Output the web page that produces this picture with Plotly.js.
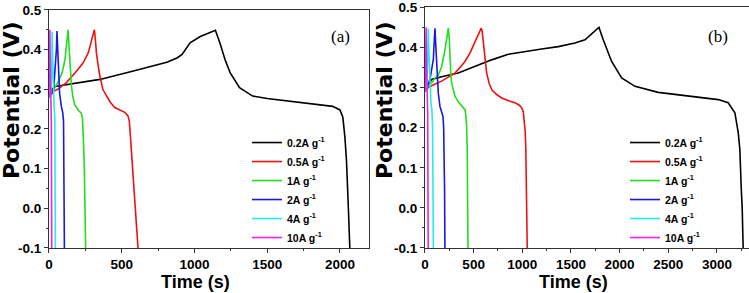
<!DOCTYPE html>
<html>
<head>
<meta charset="utf-8">
<script src="https://cdn.plot.ly/plotly-3.0.1.min.js"></script>
<style>html,body{margin:0;padding:0;background:#fff;overflow:hidden}</style>
</head>
<body>
<div id="chart" style="width:749px;height:293px"></div>
<script>
// ---- Data: panel (a) ----
const seriesNames = ['0.2A g<sup>-1</sup>','0.5A g<sup>-1</sup>','1A g<sup>-1</sup>','2A g<sup>-1</sup>','4A g<sup>-1</sup>','10A g<sup>-1</sup>'];
const seriesColors = ['#000000','#ee1111','#22dd22','#1a1ae0','#22eeee','#ee22ee'];

const a_t_02 = [0, 10, 40, 120, 350, 580, 700, 810, 880, 915, 970, 1040, 1144, 1175, 1210, 1245, 1310, 1400, 1500, 1730, 1950, 2000, 2020, 2034, 2045, 2058, 2068];
const a_v_02 = [0.285, 0.296, 0.307, 0.312, 0.325, 0.346, 0.358, 0.368, 0.379, 0.388, 0.417, 0.433, 0.449, 0.417, 0.375, 0.342, 0.304, 0.283, 0.277, 0.267, 0.257, 0.248, 0.23, 0.18, 0.12, 0.0, -0.1];
const a_t_05 = [0, 30, 60, 120, 190, 235, 270, 290, 303, 312, 318, 326, 338, 350, 370, 395, 420, 452, 490, 521, 543, 552, 560, 575, 594, 612];
const a_v_05 = [0.285, 0.295, 0.30, 0.317, 0.346, 0.367, 0.392, 0.42, 0.442, 0.45, 0.43, 0.392, 0.36, 0.333, 0.30, 0.283, 0.268, 0.254, 0.247, 0.242, 0.233, 0.22, 0.18, 0.10, 0.0, -0.1];
const a_t_1 = [0, 16, 60, 90, 110, 122, 131, 136, 142, 148, 154, 165, 177, 200, 222, 230, 234, 238, 243, 248, 252];
const a_v_1 = [0.28, 0.29, 0.317, 0.342, 0.375, 0.417, 0.45, 0.42, 0.383, 0.33, 0.31, 0.28, 0.262, 0.248, 0.24, 0.228, 0.2, 0.16, 0.1, 0.0, -0.1];
const a_t_2 = [0, 20, 32, 41, 51, 55, 60, 66, 73, 85, 95, 100, 103, 106];
const a_v_2 = [0.28, 0.29, 0.30, 0.342, 0.40, 0.447, 0.39, 0.33, 0.29, 0.257, 0.24, 0.22, 0.1, -0.1];
const a_t_4 = [0, 10, 18, 22, 25, 29, 35, 40, 42, 44];
const a_v_4 = [0.28, 0.29, 0.33, 0.445, 0.38, 0.30, 0.26, 0.23, 0.1, -0.1];
const a_t_10 = [0, 4, 6, 8, 12, 16, 19];
const a_v_10 = [0.28, 0.35, 0.45, 0.38, 0.28, 0.22, -0.1];

// ---- Data: panel (b) ----
const b_t_02 = [0, 17, 68, 171, 342, 514, 685, 856, 1027, 1199, 1370, 1541, 1644, 1729, 1775, 1788, 1832, 1918, 2021, 2158, 2397, 2740, 3014, 3116, 3185, 3219, 3236, 3250, 3260, 3270];
const b_v_02 = [0.29, 0.30, 0.32, 0.327, 0.336, 0.353, 0.369, 0.383, 0.39, 0.396, 0.402, 0.411, 0.419, 0.436, 0.447, 0.45, 0.419, 0.365, 0.324, 0.303, 0.288, 0.279, 0.270, 0.262, 0.237, 0.188, 0.146, 0.05, 0.0, -0.1];
const b_t_05 = [0, 34, 100, 171, 240, 308, 360, 411, 462, 514, 550, 578, 588, 600, 615, 634, 660, 690, 740, 788, 860, 925, 970, 993, 1010, 1021, 1030, 1036, 1043, 1051];
const b_v_05 = [0.29, 0.30, 0.308, 0.316, 0.326, 0.336, 0.35, 0.365, 0.386, 0.415, 0.435, 0.448, 0.44, 0.41, 0.37, 0.336, 0.31, 0.293, 0.282, 0.274, 0.267, 0.262, 0.256, 0.25, 0.24, 0.22, 0.19, 0.15, 0.05, -0.1];
const b_t_1 = [0, 17, 68, 103, 137, 171, 205, 225, 240, 250, 257, 266, 274, 290, 308, 340, 377, 411, 420, 428, 434, 438, 442];
const b_v_1 = [0.29, 0.30, 0.311, 0.324, 0.331, 0.352, 0.394, 0.425, 0.448, 0.42, 0.352, 0.33, 0.311, 0.292, 0.278, 0.265, 0.253, 0.245, 0.23, 0.204, 0.15, 0.05, -0.1];
const b_t_2 = [0, 20, 51, 86, 96, 103, 110, 120, 137, 154, 171, 185, 192, 197, 201, 205];
const b_v_2 = [0.29, 0.30, 0.32, 0.37, 0.42, 0.448, 0.41, 0.352, 0.286, 0.253, 0.236, 0.228, 0.2, 0.146, 0.05, -0.1];
const b_t_4 = [0, 15, 27, 34, 42, 50, 62, 72, 78, 82, 86];
const b_v_4 = [0.29, 0.30, 0.36, 0.447, 0.38, 0.31, 0.26, 0.24, 0.2, 0.05, -0.1];
const b_t_10 = [0, 8, 12, 16, 22, 28, 33];
const b_v_10 = [0.29, 0.36, 0.45, 0.36, 0.28, 0.23, -0.1];

// ---- Axis ticks ----
const xTicksA = [0, 500, 1000, 1500, 2000];
const xTicksB = [0, 500, 1000, 1500, 2000, 2500, 3000];
const yTicks = [-0.1, 0.0, 0.1, 0.2, 0.3, 0.4, 0.5];
const yTickText = ['-0.1', '0.0', '0.1', '0.2', '0.3', '0.4', '0.5'];

const panelA = [[a_t_02,a_v_02],[a_t_05,a_v_05],[a_t_1,a_v_1],[a_t_2,a_v_2],[a_t_4,a_v_4],[a_t_10,a_v_10]];
const panelB = [[b_t_02,b_v_02],[b_t_05,b_v_05],[b_t_1,b_v_1],[b_t_2,b_v_2],[b_t_4,b_v_4],[b_t_10,b_v_10]];

const traces = [];
panelA.forEach((d, i) => traces.push({
  x: d[0], y: d[1], type: 'scatter', mode: 'lines', name: seriesNames[i],
  line: {color: seriesColors[i], width: 1.6}, xaxis: 'x', yaxis: 'y',
  legend: 'legend', legendgroup: 'a' + i
}));
panelB.forEach((d, i) => traces.push({
  x: d[0], y: d[1], type: 'scatter', mode: 'lines', name: seriesNames[i],
  line: {color: seriesColors[i], width: 1.6}, xaxis: 'x2', yaxis: 'y2',
  legend: 'legend2', legendgroup: 'b' + i
}));

const FONT = 'Liberation Sans, Arial, sans-serif';
const tickFont = {family: FONT, size: 13.5, color: '#000', weight: 'bold'};
function xAxis(domain, range, ticks, anchor, mirror) {
  return {
    domain: domain, range: range, anchor: anchor, tickmode: 'array', tickvals: ticks,
    ticks: 'outside', ticklen: 4, tickwidth: 1, tickcolor: '#333',
    minor: {ticks: 'outside', ticklen: 2, dtick: 250, tickcolor: '#333', showgrid: false},
    showline: true, linecolor: '#333', linewidth: 1, mirror: mirror,
    showgrid: false, zeroline: false, tickfont: tickFont
  };
}
function yAxis(domain, anchor, mirror) {
  return {
    domain: domain, range: [-0.1, 0.5], anchor: anchor, tickmode: 'array', tickvals: yTicks, ticktext: yTickText,
    ticks: 'outside', ticklen: 4, tickwidth: 1, tickcolor: '#333',
    minor: {ticks: 'outside', ticklen: 2, dtick: 0.05, tickcolor: '#333', showgrid: false},
    showline: true, linecolor: '#333', linewidth: 1, mirror: mirror,
    showgrid: false, zeroline: false, tickfont: tickFont
  };
}
const legendBase = {
  bgcolor: 'rgba(0,0,0,0)', borderwidth: 0, xanchor: 'left', yanchor: 'top',
  font: {family: FONT, size: 10.5, color: '#000', weight: 'bold'},
  tracegroupgap: 0, itemclick: false
};
const xTitleFont = {family: FONT, size: 18, color: '#000', weight: 'bold'};
const yTitleFont = {family: 'DejaVu Sans, sans-serif', size: 22, color: '#000', weight: 'bold'};

const layout = {
  width: 749, height: 293, margin: {l: 0, r: 0, t: 0, b: 0},
  paper_bgcolor: '#fff', plot_bgcolor: '#fff', showlegend: true,
  xaxis: xAxis([0.0654, 0.4927], [0, 2200], xTicksA, 'y', true),
  yaxis: yAxis([0.1536, 0.9659], 'x', true),
  xaxis2: xAxis([0.5674, 1.0], [0, 3330], xTicksB, 'y2', true),
  yaxis2: yAxis([0.1536, 0.975], 'x2', false),
  legend: Object.assign({}, legendBase, {x: 0.3298, y: 0.563}),
  legend2: Object.assign({}, legendBase, {x: 0.8344, y: 0.563}),
  annotations: [
    {text: '(a)', xref: 'paper', yref: 'paper', x: 0.454, y: 0.9147, showarrow: false,
     font: {family: 'Liberation Serif, Times New Roman, serif', size: 17, color: '#000'}},
    {text: '(b)', xref: 'paper', yref: 'paper', x: 0.9746, y: 0.9147, showarrow: false,
     font: {family: 'Liberation Serif, Times New Roman, serif', size: 17, color: '#000'}},
    {text: 'Time (s)', xref: 'paper', yref: 'paper', x: 195 / 749, y: (293 - 282) / 293,
     xanchor: 'center', yanchor: 'middle', showarrow: false, font: xTitleFont},
    {text: 'Time (s)', xref: 'paper', yref: 'paper', x: 573 / 749, y: (293 - 282) / 293,
     xanchor: 'center', yanchor: 'middle', showarrow: false, font: xTitleFont},
    {text: 'Potential (V)', xref: 'paper', yref: 'paper', x: 12 / 749, y: (293 - 100) / 293,
     xanchor: 'center', yanchor: 'middle', textangle: -90, showarrow: false, font: yTitleFont},
    {text: 'Potential (V)', xref: 'paper', yref: 'paper', x: 385 / 749, y: (293 - 100) / 293,
     xanchor: 'center', yanchor: 'middle', textangle: -90, showarrow: false, font: yTitleFont}
  ]
};

Plotly.newPlot('chart', traces, layout, {staticPlot: true, displayModeBar: false});
</script>
</body>
</html>
